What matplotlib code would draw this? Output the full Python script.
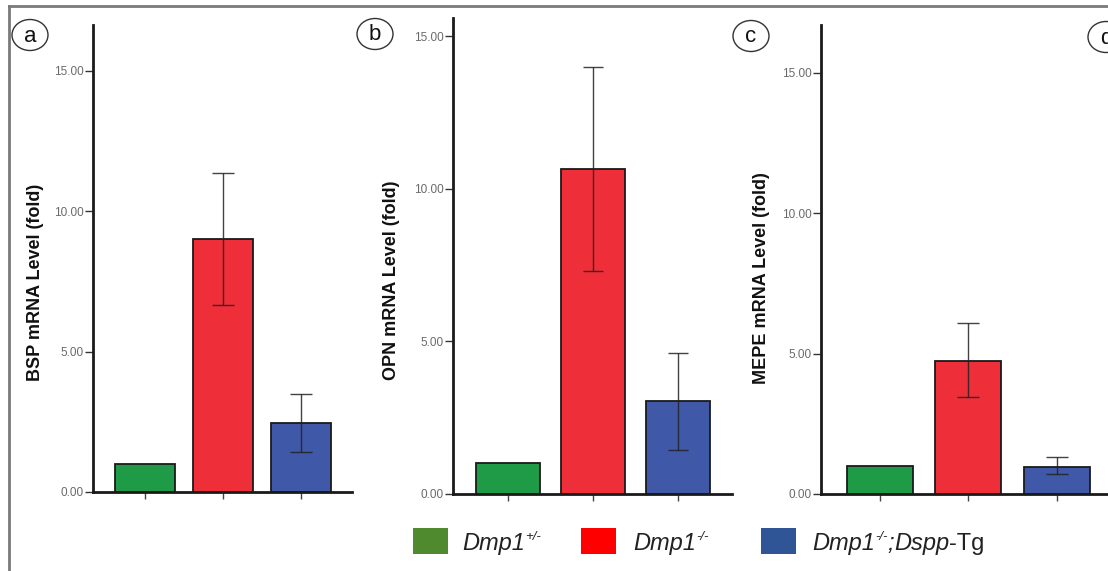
import matplotlib
matplotlib.use("Agg")
import matplotlib.pyplot as plt
from matplotlib.patches import Ellipse, Rectangle
from matplotlib.lines import Line2D

plt.rcParams['font.family'] = ['Liberation Sans', 'DejaVu Sans']

# ---- data ----
groups = ["Dmp1+/-", "Dmp1-/-", "Dmp1-/-;Dspp-Tg"]
bsp_mean = [1.0, 9.0, 2.46]
bsp_low = [1.0, 6.65, 1.42]
bsp_high = [1.0, 11.35, 3.49]
opn_mean = [1.0, 10.65, 3.05]
opn_low = [1.0, 7.31, 1.44]
opn_high = [1.0, 14.0, 4.62]
mepe_mean = [1.0, 4.74, 0.97]
mepe_low = [1.0, 3.46, 0.71]
mepe_high = [1.0, 6.09, 1.32]
y_ticks = [0, 5, 10, 15]
y_ticklabels = ["0.00", "5.00", "10.00", "15.00"]
ylabels = ["BSP mRNA Level (fold)", "OPN mRNA Level (fold)", "MEPE mRNA Level (fold)"]
panel_letters = ["a", "b", "c", "d"]
# legend label pieces: (text, is_superscript, italic)
legend_pieces = [
    [("Dmp1", False, True), ("+/-", True, True)],
    [("Dmp1", False, True), ("-/-", True, True)],
    [("Dmp1", False, True), ("-/-", True, True), (";", False, True),
     ("Dspp", False, True), ("-Tg", False, False)],
]

bar_colors = ["#1f9a47", "#ee2e39", "#3f58a8"]
legend_colors = ["#4f8a2e", "#ff0000", "#2f5597"]

W, H = 1108, 571
fig = plt.figure(figsize=(W / 100, H / 100), dpi=100)
fig.patch.set_facecolor("white")


def fx(px):
    return px / W


def fy(py):
    return 1 - py / H


# axes layout in pixels: left, right, top, bottom, xlim, ylim_top, bar width, ylabel x, ylabel y, capsize
layouts = [
    (93, 352, 25, 492, (-0.667, 2.654), 16.62, 0.77, 36, 282, 8),
    (453, 732, 18, 494, (-0.647, 2.635), 15.6, 0.75, 392, 280, 7.5),
    (821, 1108, 25, 494, (-0.667, 2.58), 16.7, 0.75, 762, 278, 8),
]
means = [bsp_mean, opn_mean, mepe_mean]
lows = [bsp_low, opn_low, mepe_low]
highs = [bsp_high, opn_high, mepe_high]

for i, (l, r, t, b, xl, ytop, bw, ylx, yly, cs) in enumerate(layouts):
    ax = fig.add_axes([fx(l), fy(b), fx(r) - fx(l), fy(t) - fy(b)])
    x = list(range(len(groups)))
    m = means[i]
    ax.bar(x, m, width=bw, color=bar_colors, edgecolor="#1a1a1a", linewidth=1.3, zorder=2)
    lo = [mm - ll for mm, ll in zip(m, lows[i])]
    hi = [hh - mm for mm, hh in zip(m, highs[i])]
    for xi, mm, a_, b_ in zip(x, m, lo, hi):
        if a_ > 0 or b_ > 0:
            ax.errorbar([xi], [mm], yerr=[[a_], [b_]], fmt="none", ecolor="#222222",
                        elinewidth=1.0, capsize=cs, capthick=1.0, zorder=3, alpha=0.85)
    ax.set_xlim(*xl)
    ax.set_ylim(0, ytop)
    ax.set_xticks(x)
    ax.set_xticklabels([])
    ax.set_yticks(y_ticks)
    ax.set_yticklabels(y_ticklabels)
    ax.tick_params(axis="y", length=6, width=1.0, pad=0.5, labelsize=8.5, labelcolor="#6a6a6a", color="#333333")
    ax.tick_params(axis="x", length=5, width=1.0, color="#444444")
    for s in ["top", "right"]:
        ax.spines[s].set_visible(False)
    ax.spines["left"].set_linewidth(2.0)
    ax.spines["bottom"].set_linewidth(2.0)
    ax.spines["left"].set_color("#1a1a1a")
    ax.spines["bottom"].set_color("#1a1a1a")
    ax.set_facecolor("none")
    fig.text(fx(ylx), fy(yly), ylabels[i], rotation=90, ha="center", va="center",
             fontsize=13, fontweight="bold", color="#111111")

# panel letters in circles
letter_pos = [(30, 35), (375, 34), (751, 36), (1106, 37)]
for letter, (px, py) in zip(panel_letters, letter_pos):
    e = Ellipse((fx(px), fy(py)), 36 / W, 31 / H, transform=fig.transFigure,
                facecolor="white", edgecolor="#333333", linewidth=1.0)
    fig.add_artist(e)
    fig.text(fx(px), fy(py + 1), letter, ha="center", va="center", fontsize=16, color="#111111")

# frame
fig.add_artist(Line2D([fx(9), 1.0], [fy(6), fy(6)], transform=fig.transFigure, color="#7a7a7a", linewidth=2))
fig.add_artist(Line2D([fx(9), fx(9)], [fy(6), 0.0], transform=fig.transFigure, color="#7a7a7a", linewidth=2))

# legend
renderer = fig.canvas.get_renderer()
leg_patch_x = [413, 581, 761]
leg_text_x = [462, 633, 812]
base_y = 550
for c, pieces, px, tx in zip(legend_colors, legend_pieces, leg_patch_x, leg_text_x):
    fig.add_artist(Rectangle((fx(px), fy(554)), 35 / W, 26 / H, transform=fig.transFigure,
                             facecolor=c, edgecolor="none"))
    cur = tx
    for txt, sup, ital in pieces:
        size = 9.5 if sup else 17
        yy = base_y - 10 if sup else base_y
        tt = fig.text(fx(cur), fy(yy), txt, ha="left", va="baseline", fontsize=size,
                      fontstyle="italic" if ital else "normal", color="#222222")
        bb = tt.get_window_extent(renderer)
        cur = bb.x1 + (0.5 if sup else 0)

fig.savefig("out.png", dpi=100, facecolor="white")
